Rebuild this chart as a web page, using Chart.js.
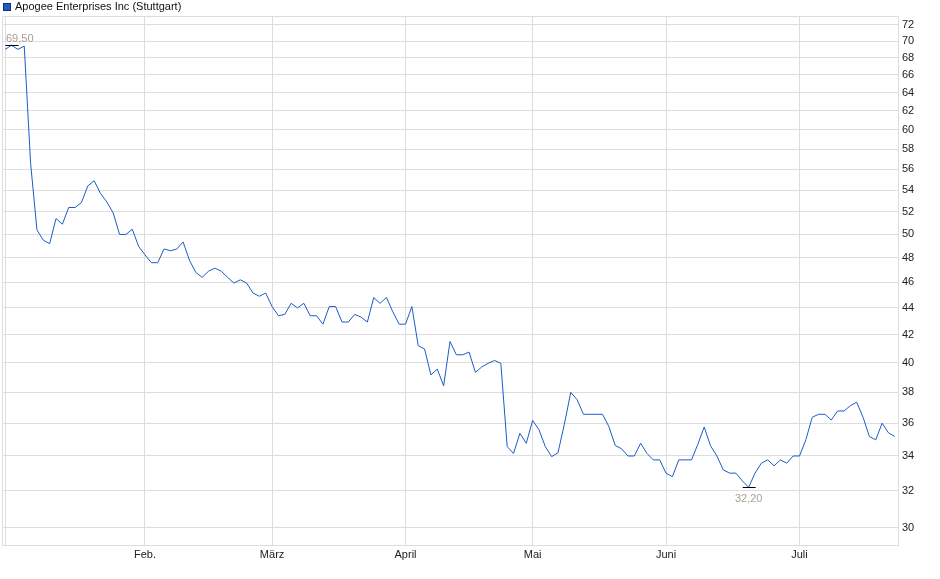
<!DOCTYPE html>
<html>
<head>
<meta charset="utf-8">
<title>Apogee Enterprises Inc (Stuttgart)</title>
<script src="https://cdn.jsdelivr.net/npm/chart.js"></script>
<style>
    body { margin: 0; background: #fff; }
    #wrap { width: 940px; height: 579px; position: relative; }
</style>
</head>
<body>
<div id="wrap"><canvas id="priceChart"></canvas></div>
<script>
// Daily closes (EUR), one per Stuttgart trading day, early Jan to late Jul
const closes = [
    69.0, 69.5, 69.0, 69.4, 56.6, 50.4, 49.5, 49.2, 51.4, 50.9,
    52.4, 52.4, 52.85, 54.4, 54.9, 53.7, 52.9, 51.9, 50.0, 50.0,
    50.45, 48.97, 48.25, 47.6, 47.6, 48.75, 48.6, 48.75, 49.35, 47.8,
    46.8, 46.4, 46.9, 47.15, 46.9, 46.4, 45.94, 46.2, 45.94, 45.15,
    44.9, 45.15, 44.1, 43.4, 43.5, 44.35, 44.0, 44.35, 43.4, 43.4,
    42.77, 44.1, 44.1, 42.93, 42.93, 43.5, 43.3, 42.93, 44.8, 44.35,
    44.8, 43.7, 42.77, 42.77, 44.1, 41.2, 40.96, 39.15, 39.55, 38.42,
    41.5, 40.55, 40.55, 40.74, 39.33, 39.7, 39.95, 40.15, 39.95, 34.56,
    34.15, 35.37, 34.76, 36.17, 35.59, 34.56, 33.96, 34.2, 35.94, 37.98,
    37.5, 36.56, 36.56, 36.56, 36.56, 35.79, 34.63, 34.43, 34.0, 34.0,
    34.76, 34.15, 33.77, 33.77, 32.99, 32.8, 33.77, 33.77, 33.77, 34.7,
    35.76, 34.61, 34.0, 33.19, 33.0, 33.0, 32.56, 32.2, 33.0, 33.58,
    33.77, 33.42, 33.77, 33.58, 34.0, 34.0, 34.97, 36.37, 36.56, 36.56,
    36.2, 36.77, 36.77, 37.11, 37.34, 36.37, 35.17, 34.97, 36.0, 35.4,
    35.17
];

// first trading day of each month (index into closes) and its label
const monthStartIdx = [0, 22, 42, 63, 83, 104, 125];
const monthLabels = ['', 'Feb.', 'März', 'April', 'Mai', 'Juni', 'Juli'];

const yTicks = [30, 32, 34, 36, 38, 40, 42, 44, 46, 48, 50, 52, 54, 56, 58, 60, 62, 64, 66, 68, 70, 72];

const seriesName = 'Apogee Enterprises Inc (Stuttgart)';
const lineColor = '#1c5cc8';
const gridColor = '#dddddd';
const fontFamily = "'Liberation Sans', Arial, sans-serif";

// frame, legend and min/max markers
const extrasPlugin = {
    id: 'extras',
    afterDatasetsDraw(chart) {
        const ctx = chart.ctx;
        const area = chart.chartArea;
        const xs = chart.scales.x;
        const ys = chart.scales.y;

        ctx.save();
        ctx.strokeStyle = gridColor;
        ctx.lineWidth = 1;
        ctx.beginPath();
        ctx.moveTo(area.left + 0.5, area.bottom);
        ctx.lineTo(area.left + 0.5, area.top + 0.5);
        ctx.lineTo(area.right, area.top + 0.5);
        ctx.stroke();

        // legend
        ctx.fillStyle = lineColor;
        ctx.fillRect(3, 3, 8, 8);
        ctx.strokeStyle = '#10306a';
        ctx.strokeRect(3.5, 3.5, 7, 7);
        ctx.fillStyle = '#111';
        ctx.font = '11px ' + fontFamily;
        ctx.textBaseline = 'middle';
        ctx.textAlign = 'left';
        ctx.fillText(seriesName, 15, 7);

        // highest and lowest close
        let hi = 0, lo = 0;
        closes.forEach((v, i) => {
            if (v > closes[hi]) hi = i;
            if (v < closes[lo]) lo = i;
        });
        const marks = [{ i: hi, up: true }, { i: lo, up: false }];
        marks.forEach(m => {
            const px = xs.getPixelForValue(m.i);
            const py = Math.round(ys.getPixelForValue(closes[m.i])) + 0.5;
            ctx.strokeStyle = '#000';
            ctx.beginPath();
            ctx.moveTo(px - 6, py);
            ctx.lineTo(px + 7, py);
            ctx.stroke();

            const txt = closes[m.i].toFixed(2).replace('.', ',');
            const w = ctx.measureText(txt).width;
            let cx = Math.max(px, area.left + 4 + w / 2);
            cx = Math.min(cx, area.right - 4 - w / 2);
            ctx.fillStyle = '#aaa094';
            ctx.textAlign = 'center';
            if (m.up) {
                ctx.textBaseline = 'alphabetic';
                ctx.fillText(txt, cx, py - 4);
            } else {
                ctx.textBaseline = 'top';
                ctx.fillText(txt, cx, py + 6);
            }
        });
        ctx.restore();
    }
};

const points = closes.map((v, i) => ({ x: i, y: v }));

new Chart(document.getElementById('priceChart'), {
    type: 'line',
    data: {
        datasets: [{
            label: seriesName,
            data: points,
            borderColor: lineColor,
            borderWidth: 1,
            pointRadius: 0,
            tension: 0,
            fill: false
        }]
    },
    options: {
        responsive: true,
        maintainAspectRatio: false,
        animation: false,
        layout: { padding: { top: 16, left: 2, right: 0, bottom: 0 } },
        plugins: {
            legend: { display: false },
            tooltip: { enabled: false }
        },
        scales: {
            x: {
                type: 'linear',
                min: -0.5,
                max: closes.length - 0.5,
                afterBuildTicks: axis => {
                    axis.ticks = monthStartIdx.map(v => ({ value: v }));
                },
                afterFit: scale => { scale.height = 34; },
                grid: { color: gridColor, lineWidth: 1, drawTicks: false },
                border: { display: true, color: gridColor },
                ticks: {
                    autoSkip: false,
                    maxRotation: 0,
                    padding: 3,
                    color: '#222',
                    font: { family: fontFamily, size: 11 },
                    callback: value => {
                        const k = monthStartIdx.indexOf(value);
                        return k >= 0 ? monthLabels[k] : '';
                    }
                }
            },
            y: {
                type: 'logarithmic',
                position: 'right',
                min: 29.12,
                max: 73.13,
                afterBuildTicks: axis => {
                    axis.ticks = yTicks.map(v => ({ value: v }));
                },
                afterFit: scale => { scale.width = 42; },
                grid: { color: gridColor, lineWidth: 1, drawTicks: false },
                border: { display: true, color: gridColor },
                ticks: {
                    padding: 4,
                    color: '#222',
                    font: { family: fontFamily, size: 11 },
                    callback: value => String(value)
                }
            }
        }
    },
    plugins: [extrasPlugin]
});
</script>
</body>
</html>
